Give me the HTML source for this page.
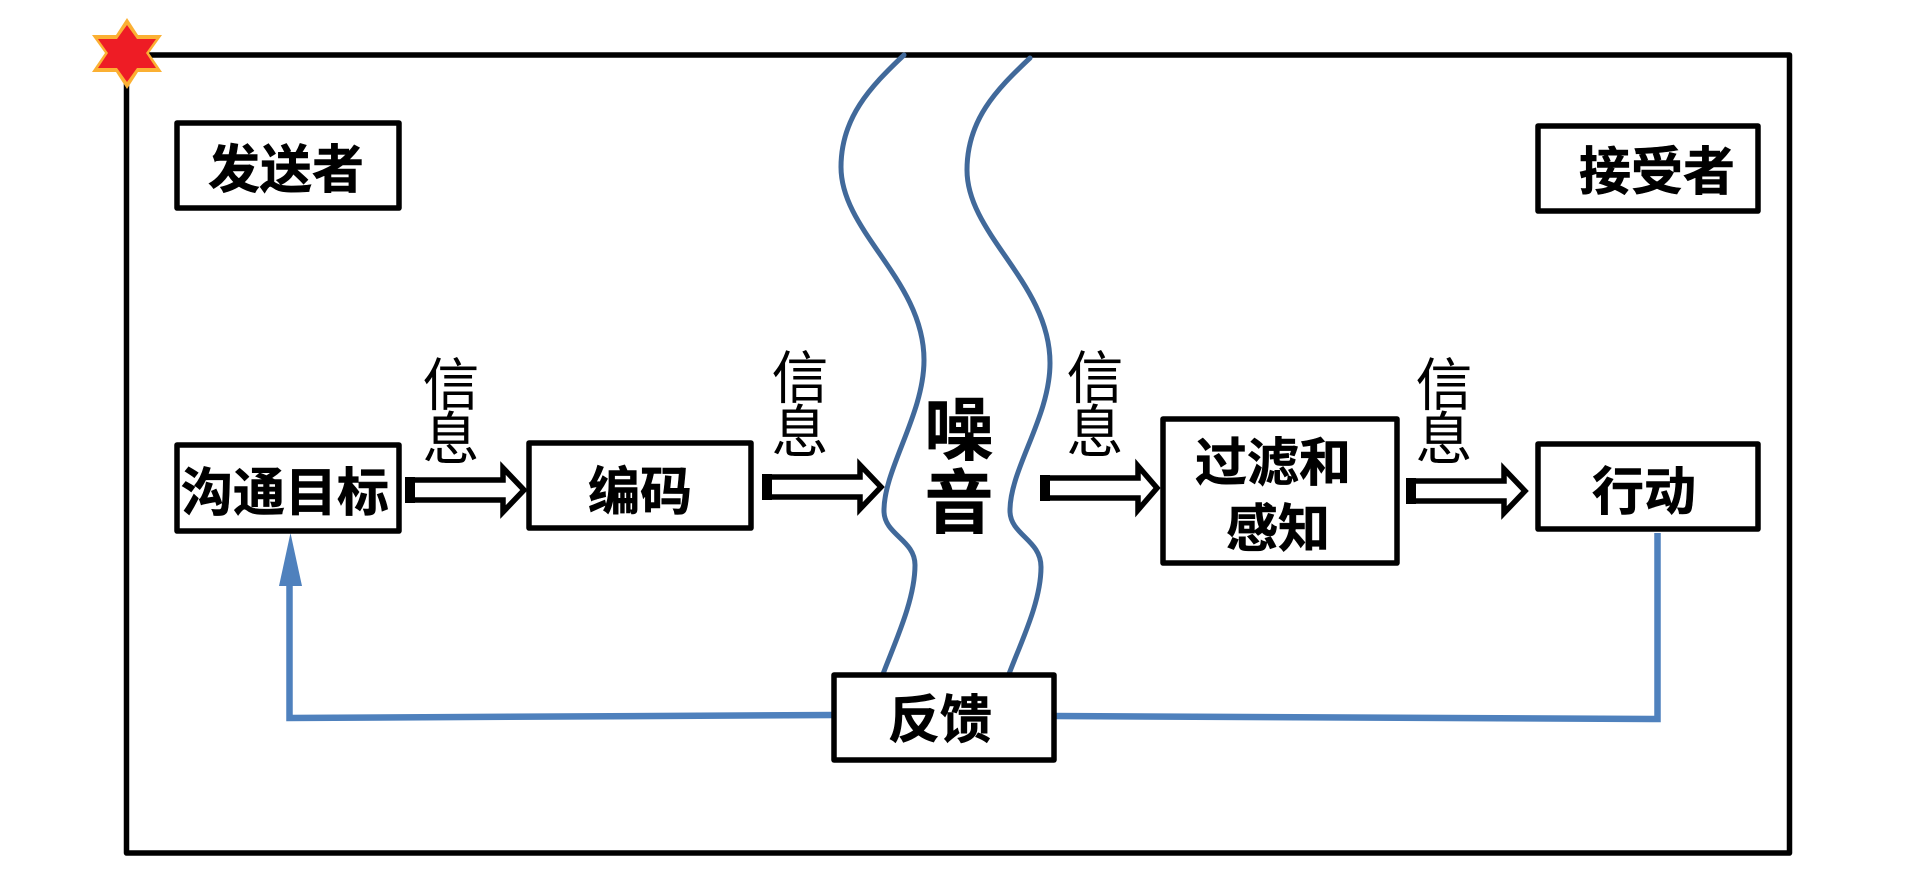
<!DOCTYPE html>
<html><head><meta charset="utf-8"><style>
html,body{margin:0;padding:0;background:#fff;width:1920px;height:880px;overflow:hidden}
svg{display:block}
text{font-family:"Liberation Sans","Noto Sans CJK SC",sans-serif;text-anchor:middle}
.b{font-weight:700;font-size:52px;fill:#000;stroke:#000;stroke-width:.6px}
.t{font-weight:400;font-size:57px;fill:#000}
.box{fill:#fff;stroke:#000;stroke-width:5.5;stroke-linejoin:round}
.c{fill:none;stroke:#41699a;stroke-width:5;stroke-linecap:round}
</style></head><body>
<svg width="1920" height="880" viewBox="0 0 1920 880" xmlns="http://www.w3.org/2000/svg">
<rect x="126.500" y="55" width="1663" height="798" fill="none" stroke="#000" stroke-width="5.500" stroke-linejoin="round"/>
<polygon points="127,18 138,35 162,35 149,53 162,72 138,72 127,89 116,72 92,72 105,53 92,35 116,35" fill="#fbb033"/>
<polygon points="127,25 137,39 156,39 146,53 156,68 137,68 127,82 117,68 98,68 108,53 98,39 117,39" fill="#ee1c25"/>
<path class="c" d="M904,55 C870,87 841,118 841,167 C841,232 924,280 924,360 C924,415 883,470 884,512 C885,535 915,540 915,565 C915,600 895,642 883,674"/>
<path class="c" d="M1030,58 C996,90 967,120 967,170 C967,235 1050,283 1050,363 C1050,418 1009,470 1010,512 C1011,535 1041,540 1041,567 C1041,602 1021,642 1009,674"/>
<g fill="none" stroke="#4f81bd" stroke-width="6.500">
<path d="M833,715 L289.500,718 L289.500,580"/>
<path d="M1054,716 L1657.500,719 L1657.500,533"/>
</g>
<polygon points="290.500,533 302,586 279,586" fill="#4f81bd"/>
<rect class="box" x="177" y="123" width="222" height="85"/>
<rect class="box" x="1538" y="126" width="220" height="85"/>
<rect class="box" x="177" y="445" width="222" height="86"/>
<rect class="box" x="529" y="443" width="222" height="85"/>
<rect class="box" x="1163" y="419" width="234" height="144"/>
<rect class="box" x="1538" y="444" width="220" height="85"/>
<rect class="box" x="834" y="675" width="220" height="85"/>
<text class="b" x="286" y="188">发送者</text>
<text class="b" x="1657" y="190">接受者</text>
<text class="b" x="285" y="511" textLength="208" lengthAdjust="spacing">沟通目标</text>
<text class="b" x="640" y="510">编码</text>
<text class="b" x="1273" y="481">过滤和</text>
<text class="b" x="1278" y="547">感知</text>
<text class="b" x="1644" y="510">行动</text>
<text class="b" x="940" y="738">反馈</text>
<text class="b" x="959" y="454" style="font-size:69px">噪</text>
<text class="b" x="959" y="527" style="font-size:69px">音</text>
<g>
<text class="t" x="451" y="405">信</text><text class="t" x="451" y="459">息</text>
<text class="t" x="800" y="398">信</text><text class="t" x="800" y="452">息</text>
<text class="t" x="1095" y="398">信</text><text class="t" x="1095" y="452">息</text>
<text class="t" x="1444" y="405">信</text><text class="t" x="1444" y="459">息</text>
</g>
<g fill="#fff" stroke="#000" stroke-width="5.500" stroke-linejoin="miter">
<g transform="translate(405,490)"><polygon points="3,-10 98,-10 98,-22 119,0 98,22 98,10 3,10"/><rect x="0" y="-13" width="10" height="26" fill="#000" stroke="none"/></g>
<g transform="translate(762,487)"><polygon points="3,-10 98,-10 98,-22 119,0 98,22 98,10 3,10"/><rect x="0" y="-13" width="10" height="26" fill="#000" stroke="none"/></g>
<g transform="translate(1040,488)"><polygon points="3,-10 98,-10 98,-22 117,0 98,22 98,10 3,10"/><rect x="0" y="-13" width="10" height="26" fill="#000" stroke="none"/></g>
<g transform="translate(1406,491)"><polygon points="3,-10 98,-10 98,-22 119,0 98,22 98,10 3,10"/><rect x="0" y="-13" width="10" height="26" fill="#000" stroke="none"/></g>
</g>
</svg>
</body></html>
